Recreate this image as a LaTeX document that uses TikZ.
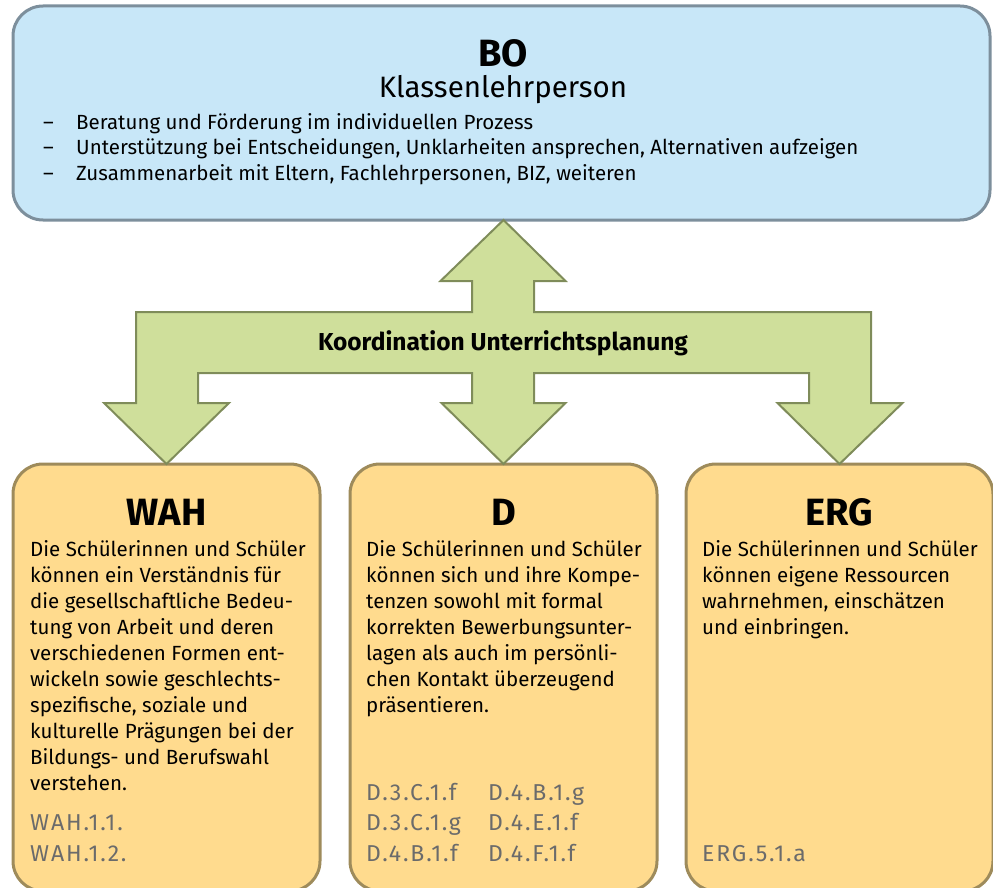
\documentclass[tikz,border=0pt]{standalone}
\usepackage{fontspec}
\setmainfont{Fira Sans}
\newfontfamily\reffont[LetterSpace=8]{Fira Sans}
\usetikzlibrary{calc}
\definecolor{boblue}{HTML}{C8E7F8}
\definecolor{boline}{HTML}{7D8F9C}
\definecolor{subjfill}{HTML}{FFDB8E}
\definecolor{subjline}{HTML}{9E8B5B}
\definecolor{planfill}{HTML}{CFDF9B}
\definecolor{planline}{HTML}{7F8C5A}
\definecolor{refgray}{HTML}{6B6B6B}

\begin{document}
\begin{tikzpicture}[x=1pt, y=-1pt,
    bobox/.style={draw=boline, fill=boblue, line width=3pt, rounded corners=30pt,
      minimum width=977pt, minimum height=214pt, inner sep=0pt, outer sep=0pt},
    subjbox/.style={draw=subjline, fill=subjfill, line width=3pt, rounded corners=30pt,
      minimum width=307pt, minimum height=427pt, inner sep=0pt, outer sep=0pt},
    head/.style={font=\bfseries\fontsize{38}{42}\selectfont, inner sep=0pt, anchor=base},
    blurb/.style={font=\fontsize{20.5}{26}\selectfont, align=left, inner sep=0pt, anchor=base west},
    reflist/.style={font=\reffont\fontsize{23}{30.5}\selectfont, text=refgray, align=left, inner sep=0pt, anchor=base west},
    planarrow/.style={draw=planline, fill=planfill, line width=2pt, line join=miter}
  ]
    \useasboundingbox (0,0) rectangle (993,888);

    \node[bobox] (bo) at (501.5,113) {};
    \node[subjbox] (wah) at (166.5,677.5) {};
    \node[subjbox] (d) at (503.5,677.5) {};
    \node[subjbox] (erg) at (839.5,677.5) {};

    \node[head] (botitle) at (503,67) {BO};
    \node[font=\fontsize{29.5}{32}\selectfont, inner sep=0pt, anchor=base] (bosub) at (503,98) {Klassenlehrperson};
    \node[blurb, font=\fontsize{20.5}{25.5}\selectfont] (botasks) at (43,180) {%
      \makebox[33pt][l]{–}Beratung und Förderung im individuellen Prozess\\
      \makebox[33pt][l]{–}Unterstützung bei Entscheidungen, Unklarheiten ansprechen, Alternativen aufzeigen\\
      \makebox[33pt][l]{–}Zusammenarbeit mit Eltern, Fachlehrpersonen, BIZ, weiteren};

    \draw[planarrow] (d.north |- bo.south) -- (565.5,281) -- (534,281) -- (534,312)
      -- (871,312) -- (871,403) -- (902.5,403) -- (erg.north) -- (777.5,403) -- (809,403)
      -- (809,373) -- (534,373) -- (534,403) -- (565.5,403) -- (d.north) -- (441.5,403)
      -- (472,403) -- (472,373) -- (198,373) -- (198,403) -- (229,403) -- (wah.north)
      -- (104,403) -- (136,403) -- (136,312) -- (472,312) -- (472,281) -- (440.5,281) -- cycle;
    \node[font=\bfseries\fontsize{24.5}{28}\selectfont, inner sep=0pt, anchor=base] (plan) at (503,350) {Koordination Unterrichtsplanung};

    \node[head] (wahtitle) at (166.5,525) {WAH};
    \node[blurb] (wahtext) at (30,790) {Die Schülerinnen und Schüler\\
      können ein Verständnis für\\
      die gesellschaftliche Bedeu-\\
      tung von Arbeit und deren\\
      verschiedenen Formen ent-\\
      wickeln sowie geschlechts-\\
      spezifische, soziale und\\
      kulturelle Prägungen bei der\\
      Bildungs- und Berufswahl\\
      verstehen.};
    \node[reflist] (wahrefs) at (30,861) {WAH.1.1.\\WAH.1.2.};

    \node[head] (dtitle) at (503.5,525) {D};
    \node[blurb] (dtext) at (366,712) {Die Schülerinnen und Schüler\\
      können sich und ihre Kompe-\\
      tenzen sowohl mit formal\\
      korrekten Bewerbungsunter-\\
      lagen als auch im persönli-\\
      chen Kontakt überzeugend\\
      präsentieren.};
    \node[reflist] (drefsa) at (366,861) {D.3.C.1.f\\D.3.C.1.g\\D.4.B.1.f};
    \node[reflist] (drefsb) at (488,861) {D.4.B.1.g\\D.4.E.1.f\\D.4.F.1.f};

    \node[head] (ergtitle) at (839.5,525) {ERG};
    \node[blurb] (ergtext) at (702,634) {Die Schülerinnen und Schüler\\
      können eigene Ressourcen\\
      wahrnehmen, einschätzen\\
      und einbringen.};
    \node[reflist] (ergrefs) at (702,861) {ERG.5.1.a};
  \end{tikzpicture}
\end{document}
